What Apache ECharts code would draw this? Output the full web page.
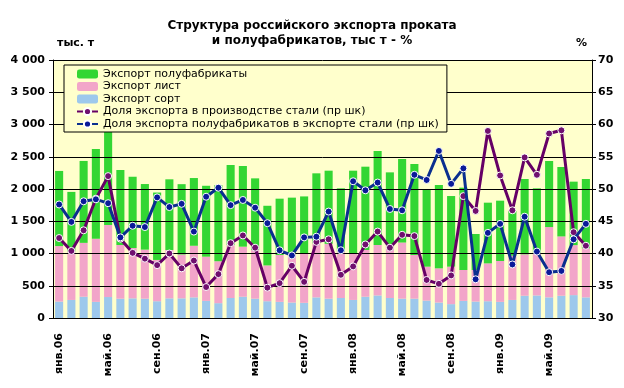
<!DOCTYPE html>
<html>
<head>
<meta charset="utf-8">
<script src="https://cdn.jsdelivr.net/npm/echarts@6/dist/echarts.min.js"></script>
<style>
html,body{margin:0;padding:0;background:#fff;}
#chart{width:624px;height:388px;}
</style>
</head>
<body>
<div id="chart"></div>
<script>
const categories = ['янв.06','фев.06','мар.06','апр.06','май.06','июн.06','июл.06','авг.06','сен.06','окт.06','ноя.06','дек.06',
  'янв.07','фев.07','мар.07','апр.07','май.07','июн.07','июл.07','авг.07','сен.07','окт.07','ноя.07','дек.07',
  'янв.08','фев.08','мар.08','апр.08','май.08','июн.08','июл.08','авг.08','сен.08','окт.08','ноя.08','дек.08',
  'янв.09','фев.09','мар.09','апр.09','май.09','июн.09','июл.09','авг.09'];
const exportSort = [255,280,330,250,325,300,305,300,260,305,305,320,265,230,310,330,300,260,250,240,235,320,300,310,280,330,350,310,300,300,270,240,215,265,255,260,250,280,345,350,320,345,355,320];
const exportList = [860,750,835,980,1117,832,780,760,640,749,680,800,686,650,822,776,754,555,727,747,768,838,850,718,723,724,782,822,870,677,526,530,581,479,489,587,634,686,642,650,1090,920,775,760];
const exportSemi = [1165,925,1270,1390,1548,1163,1105,1017,1045,1096,1090,1050,1099,1180,1240,1251,1111,925,873,879,882,1085,1134,982,1281,1292,1457,1126,1295,1411,1199,1292,1095,1277,558,941,935,694,1168,1010,1024,1076,984,1075];
const shareInProduction = [42.4,40.4,43.6,48.5,52.0,42.3,40.1,39.2,38.2,40.0,37.7,38.9,34.8,36.8,41.6,42.8,40.9,34.7,35.4,38.1,35.6,41.8,42.2,36.7,38.0,41.4,43.4,40.9,42.9,42.7,35.9,35.3,36.6,48.9,46.6,59.0,52.1,46.7,54.9,52.2,58.6,59.1,43.3,41.2];
const shareSemiInExport = [47.6,44.9,48.1,48.4,47.8,42.5,44.3,44.1,48.7,47.2,47.7,43.4,48.8,50.2,47.5,48.3,47.1,44.7,40.5,39.7,42.5,42.6,46.5,40.5,51.2,49.8,51.0,46.9,46.7,52.2,51.4,55.9,50.8,53.2,36.0,43.2,44.6,38.3,45.7,40.3,37.1,37.3,42.2,44.6];
const leftTicks = [0,500,1000,1500,2000,2500,3000,3500,4000];
const rightTicks = [30,35,40,45,50,55,60,65,70];

const seriesNames = ['Экспорт полуфабрикаты','Экспорт лист','Экспорт сорт',
  'Доля экспорта в производстве стали (пр шк)','Доля экспорта полуфабрикатов в экспорте стали (пр шк)'];

const chart = echarts.init(document.getElementById('chart'), null, {renderer:'canvas'});
const axisFont = {fontFamily:'DejaVu Sans', fontWeight:'bold', fontSize:11, color:'#000'};
function fmtThousands(v){
  if (v >= 1000) { return Math.floor(v/1000) + ' ' + String(v % 1000).padStart(3,'0'); }
  return String(v);
}
chart.setOption({
  animation:false,
  backgroundColor:'#fff',
  title:[
    {text:'Структура российского экспорта проката\nи полуфабрикатов, тыс т - %', left:'center', top:13,
     textStyle:{fontFamily:'DejaVu Sans', fontWeight:'bold', fontSize:12, lineHeight:15, color:'#000'}},
    {text:'тыс. т', left:52, top:33, textStyle:{fontFamily:'DejaVu Sans', fontWeight:'bold', fontSize:11, color:'#000'}},
    {text:'%', left:571, top:33, textStyle:{fontFamily:'DejaVu Sans', fontWeight:'bold', fontSize:11, color:'#000'}}
  ],
  legend:{
    orient:'vertical', left:64, top:65,
    data:seriesNames,
    itemWidth:21, itemHeight:9, itemGap:0.5,
    padding:[3,8,2,12],
    backgroundColor:'#FFFFCC', borderColor:'#000', borderWidth:1,
    textStyle:{fontFamily:'DejaVu Sans', fontSize:11, lineHeight:12, color:'#000'}
  },
  grid:{left:53, right:32, top:60, bottom:70, show:true, backgroundColor:'#FFFFCC', borderWidth:0},
  xAxis:{
    type:'category', data:categories, boundaryGap:true,
    axisLine:{lineStyle:{color:'#000', width:1}},
    axisTick:{interval:3, length:5, lineStyle:{color:'#000'}},
    axisLabel:Object.assign({interval:3, rotate:90, margin:15}, axisFont)
  },
  yAxis:[
    {type:'value', min:leftTicks[0], max:leftTicks[leftTicks.length-1], interval:leftTicks[1]-leftTicks[0], z:3,
     axisLine:{show:true, lineStyle:{color:'#000'}},
     axisTick:{show:true, length:4, lineStyle:{color:'#000'}},
     splitLine:{show:true, lineStyle:{color:'#000', width:1}},
     axisLabel:Object.assign({formatter:fmtThousands, margin:8}, axisFont)},
    {type:'value', min:rightTicks[0], max:rightTicks[rightTicks.length-1], interval:rightTicks[1]-rightTicks[0], z:3,
     axisLine:{show:true, lineStyle:{color:'#000'}},
     axisTick:{show:true, length:4, lineStyle:{color:'#000'}},
     splitLine:{show:false},
     axisLabel:Object.assign({margin:6}, axisFont)}
  ],
  series:[
    {name:seriesNames[2], type:'bar', stack:'exp', data:exportSort, barCategoryGap:'34%', itemStyle:{color:'#9DC8EC'}, z:2},
    {name:seriesNames[1], type:'bar', stack:'exp', data:exportList, itemStyle:{color:'#F2A5C9'}, z:2},
    {name:seriesNames[0], type:'bar', stack:'exp', data:exportSemi, itemStyle:{color:'#33D633'}, z:2},
    {name:seriesNames[3], type:'line', yAxisIndex:1, data:shareInProduction, z:5,
     symbol:'circle', symbolSize:7, lineStyle:{color:'#660066', width:3},
     itemStyle:{color:'#70106F', borderColor:'#fff', borderWidth:1}},
    {name:seriesNames[4], type:'line', yAxisIndex:1, data:shareSemiInExport, z:6,
     symbol:'circle', symbolSize:7, lineStyle:{color:'#0A2F8F', width:3},
     itemStyle:{color:'#0A1A99', borderColor:'#fff', borderWidth:1}}
  ]
});
</script>
</body>
</html>
